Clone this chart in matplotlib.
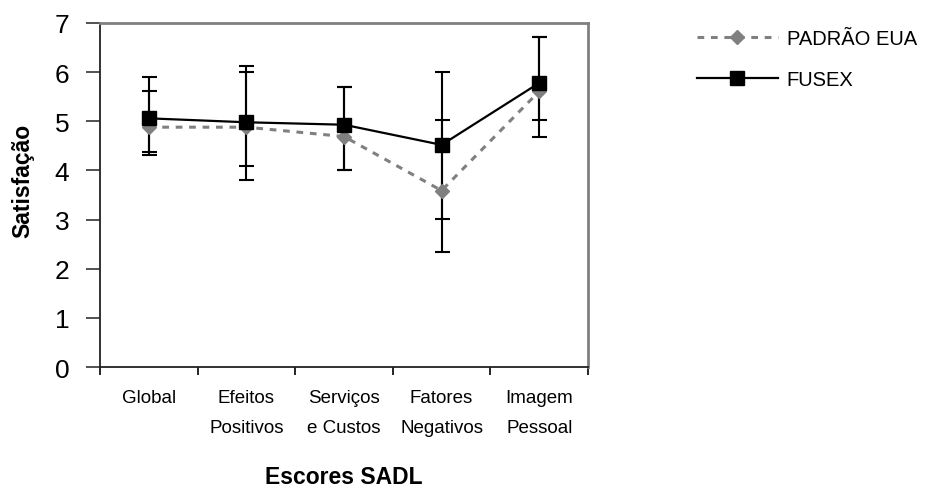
import matplotlib
matplotlib.use("Agg")
import matplotlib.pyplot as plt
import numpy as np

plt.rcParams['font.family'] = ['Liberation Sans', 'DejaVu Sans']

categories = ["Global", "Efeitos\nPositivos", "Serviços\ne Custos", "Fatores\nNegativos", "Imagem\nPessoal"]
padrao = [4.88, 4.88, 4.69, 3.59, 5.61]
padrao_low = [4.38, 4.10, 4.01, 3.01, 5.03]
padrao_high = [5.62, 6.01, 5.70, 5.03, 6.71]
fusex = [5.06, 4.98, 4.93, 4.52, 5.78]
fusex_low = [4.32, 3.80, 4.01, 2.33, 4.69]
fusex_high = [5.91, 6.12, 5.70, 6.00, 6.71]
yticks = [0, 1, 2, 3, 4, 5, 6, 7]

fig = plt.figure(figsize=(9.27, 4.89), dpi=100)
ax = fig.add_axes([100/927, 1-368/489, 488/927, 344/489])

x = np.arange(len(categories)) + 0.5

pad = np.array(padrao); fus = np.array(fusex)
ax.errorbar(x, pad, yerr=[pad - np.array(padrao_low), np.array(padrao_high) - pad],
            fmt='none', ecolor='black', elinewidth=1.5, capsize=5.4, capthick=1.5, zorder=2)
ax.errorbar(x, fus, yerr=[fus - np.array(fusex_low), np.array(fusex_high) - fus],
            fmt='none', ecolor='black', elinewidth=1.5, capsize=5.4, capthick=1.5, zorder=2)
l1, = ax.plot(x, pad, color='#808080', lw=2.2, dashes=(2.2, 2.2), marker='D',
              markersize=7, markerfacecolor='#808080', markeredgecolor='#808080',
              label='PADRÃO EUA', zorder=3)
l2, = ax.plot(x, fus, color='black', lw=1.6, marker='s', markersize=10,
              markerfacecolor='black', markeredgecolor='black', label='FUSEX', zorder=4)

ax.set_xlim(0, 5)
ax.set_ylim(0, 7)
ax.set_yticks(yticks)
ax.set_yticklabels([str(v) for v in yticks], fontsize=19)
ax.set_xticks(np.arange(0, 6))
ax.set_xticklabels([])
ax.set_xticks(x, minor=True)
ax.set_xticklabels(categories, minor=True, fontsize=13.5, linespacing=2.0)
ax.tick_params(axis='x', which='major', direction='out', length=6, width=1.2, color='black')
ax.tick_params(axis='x', which='minor', length=0, pad=16)
ax.tick_params(axis='y', direction='out', length=10, width=1.2, color='#333333', pad=12)

for s in ['left', 'bottom']:
    ax.spines[s].set_color('#222222')
    ax.spines[s].set_linewidth(1.3)
for s in ['top', 'right']:
    ax.spines[s].set_color('#808080')
    ax.spines[s].set_linewidth(2)

ax.set_ylabel('Satisfação', fontsize=16.5, fontweight='bold')
ax.yaxis.set_label_coords(-77/488, (368-181)/344)
ax.yaxis.label.set_va('center')
ax.set_xlabel('Escores SADL', fontsize=16.5, fontweight='bold')
ax.xaxis.set_label_coords(0.5, -(477-368)/344)
ax.xaxis.label.set_va('center')

fig.legend(handles=[l1, l2], loc='upper left', bbox_to_anchor=(689/927, 1-22/489),
           frameon=False, fontsize=14.5, handlelength=4.0, handletextpad=0.45,
           labelspacing=1.1, borderaxespad=0)

fig.savefig('out.png', dpi=100)
